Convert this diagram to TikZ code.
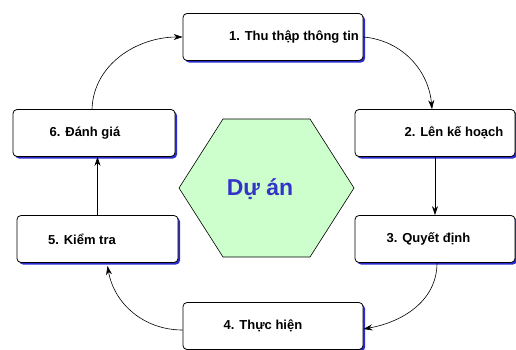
\documentclass[tikz,border=0pt]{standalone}
\usepackage{fontspec}
\setmainfont{Liberation Sans}
\usetikzlibrary{shadows,arrows.meta}
\definecolor{shadowblue}{HTML}{2B2BD0}
\definecolor{hexgreen}{HTML}{CCFFCC}
\definecolor{titleblue}{HTML}{3434C8}
\tikzset{
  stepbox/.style={draw=black, fill=white, rounded corners=4pt, inner sep=0pt, minimum height=47pt, line width=0.8pt,
    drop shadow={shadow xshift=2pt, shadow yshift=-2pt, fill=shadowblue, opacity=1}},
  steplabel/.style={font=\bfseries\fontsize{13}{15}\selectfont},
  link/.style={-{Stealth[length=9pt,width=6pt]}, line width=0.6pt}
}

\begin{document}
\begin{tikzpicture}[x=1pt,y=1pt]
\useasboundingbox (0,0) rectangle (516,349);
\node[stepbox, minimum width=180pt] (b1) at (273,312) {};
\node[stepbox, minimum width=160pt] (b2) at (435,216) {};
\node[stepbox, minimum width=160pt] (b3) at (435,110) {};
\node[stepbox, minimum width=180pt] (b4) at (273,23) {};
\node[stepbox, minimum width=161pt] (b5) at (97.5,110) {};
\node[stepbox, minimum width=162pt] (b6) at (94,216) {};
\node[steplabel] (t1) at (294,312) {1. Thu thập thông tin};
\node[steplabel] (t2) at (454,216) {2. Lên kế hoạch};
\node[steplabel] (t3) at (428.5,110) {3. Quyết định};
\node[steplabel] (t4) at (263,23) {4. Thực hiện};
\node[steplabel] (t5) at (82,110) {5. Kiểm tra};
\node[steplabel] (t6) at (85,216) {6. Đánh giá};
\filldraw[fill=hexgreen, draw=black, line width=0.6pt] (179,161) -- (223,230) -- (310,230) -- (354,161) -- (310,92) -- (223,92) -- cycle;
\node[titleblue, font=\bfseries\fontsize{23}{27}\selectfont] (proj) at (260,160) {Dự án};
\draw[link] ([xshift=-2pt]b6.north) to[out=88,in=180] (b1.west);
\draw[link] (b1.east) to[out=-5,in=95] ([xshift=-3pt]b2.north);
\draw[link] (b2.south) -- (b3.north);
\draw[link] ([xshift=2pt]b3.south) to[out=-90,in=10] ([yshift=-3pt]b4.east);
\draw[link] ([yshift=-4pt]b4.west) to[out=180,in=-80] ([xshift=10pt,yshift=-3pt]b5.south);
\draw[link] (b5.north) -- (b5.north |- b6.south);
\end{tikzpicture}
\end{document}
